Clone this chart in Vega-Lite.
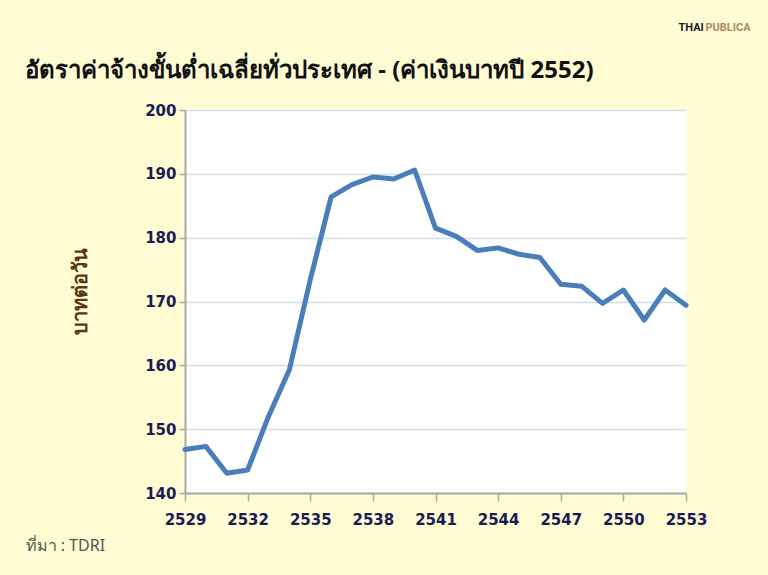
{
  "$schema": "https://vega.github.io/schema/vega-lite/v6.json",
  "width": 501,
  "height": 383,
  "autosize": {"type": "none"},
  "padding": {"left": 185, "top": 110, "right": 82, "bottom": 82},
  "background": "#FFFCD4",
  "title": {
    "text": "อัตราค่าจ้างขั้นต่ำเฉลี่ยทั่วประเทศ - (ค่าเงินบาทปี 2552)",
    "anchor": "start",
    "frame": "group",
    "dx": -160,
    "offset": -62,
    "fontSize": 24,
    "fontWeight": "bold",
    "font": "Noto Sans",
    "color": "#111111"
  },
  "config": {
    "view": {"fill": "#FFFFFF", "stroke": null},
    "axis": {
      "labelFont": "DejaVu Sans",
      "labelFontWeight": "bold",
      "labelFontSize": 15,
      "labelColor": "#1B1B55",
      "domainColor": "#A9A9A9",
      "domainWidth": 2,
      "tickColor": "#A9A9A9",
      "tickWidth": 1.5,
      "gridColor": "#D3DDE8",
      "gridWidth": 1.5
    }
  },
  "data": {
    "values": [
      {"year": 2529, "wage": 146.8},
      {"year": 2530, "wage": 147.3},
      {"year": 2531, "wage": 143.1},
      {"year": 2532, "wage": 143.6},
      {"year": 2533, "wage": 152.0},
      {"year": 2534, "wage": 159.3},
      {"year": 2535, "wage": 173.4},
      {"year": 2536, "wage": 186.4},
      {"year": 2537, "wage": 188.3},
      {"year": 2538, "wage": 189.5},
      {"year": 2539, "wage": 189.2},
      {"year": 2540, "wage": 190.6},
      {"year": 2541, "wage": 181.5},
      {"year": 2542, "wage": 180.2},
      {"year": 2543, "wage": 178.0},
      {"year": 2544, "wage": 178.4},
      {"year": 2545, "wage": 177.4},
      {"year": 2546, "wage": 176.9},
      {"year": 2547, "wage": 172.7},
      {"year": 2548, "wage": 172.4},
      {"year": 2549, "wage": 169.7},
      {"year": 2550, "wage": 171.8},
      {"year": 2551, "wage": 167.1},
      {"year": 2552, "wage": 171.8},
      {"year": 2553, "wage": 169.4}
    ]
  },
  "layer": [
    {
      "mark": {"type": "line", "stroke": "#4A7EBB", "strokeWidth": 5, "strokeJoin": "round", "strokeCap": "round"},
      "encoding": {
        "x": {
          "field": "year",
          "type": "quantitative",
          "scale": {"domain": [2529, 2553], "nice": false, "zero": false},
          "axis": {
            "values": [2529, 2532, 2535, 2538, 2541, 2544, 2547, 2550, 2553],
            "format": "d",
            "grid": false,
            "tickSize": 8,
            "labelPadding": 11,
            "labelOverlap": false,
            "labelFlush": false,
            "title": "ที่มา : TDRI",
            "titleFont": "Noto Sans",
            "titleFontSize": 16,
            "titleFontWeight": "normal",
            "titleColor": "#555555",
            "titleX": -160,
            "titleY": 52,
            "titleAlign": "left",
            "titleAnchor": "start",
            "titleBaseline": "middle"
          }
        },
        "y": {
          "field": "wage",
          "type": "quantitative",
          "scale": {"domain": [140, 200], "nice": false, "zero": false},
          "axis": {
            "values": [140, 150, 160, 170, 180, 190, 200],
            "tickSize": 6,
            "labelPadding": 3,
            "labelOverlap": false,
            "labelFlush": false,
            "title": "บาทต่อวัน",
            "titleFont": "Noto Sans",
            "titleFontSize": 20,
            "titleFontWeight": "bold",
            "titleColor": "#5A3510",
            "titleX": -105,
            "titleY": 181,
            "titleAngle": -90,
            "titleAlign": "center",
            "titleBaseline": "middle"
          }
        }
      }
    },
    {
      "mark": {"type": "line", "opacity": 0},
      "encoding": {
        "x": {
          "field": "year",
          "type": "quantitative",
          "axis": {
            "orient": "top",
            "labels": false,
            "ticks": false,
            "domain": false,
            "grid": false,
            "title": "THAI",
            "titleFont": "Roboto",
            "titleFontSize": 11,
            "titleFontWeight": "bold",
            "titleColor": "#1A1A1A",
            "titleX": 493,
            "titleY": -83,
            "titleAlign": "left",
            "titleBaseline": "middle"
          }
        },
        "y": {
          "field": "wage",
          "type": "quantitative",
          "axis": {
            "orient": "right",
            "labels": false,
            "ticks": false,
            "domain": false,
            "grid": false,
            "title": "PUBLICA",
            "titleFont": "Roboto",
            "titleFontSize": 11,
            "titleFontWeight": "bold",
            "titleColor": "#B08A5A",
            "titleX": 19,
            "titleY": -83,
            "titleAngle": 0,
            "titleAlign": "left",
            "titleBaseline": "middle"
          }
        }
      }
    }
  ],
  "resolve": {"axis": {"x": "independent", "y": "independent"}}
}
